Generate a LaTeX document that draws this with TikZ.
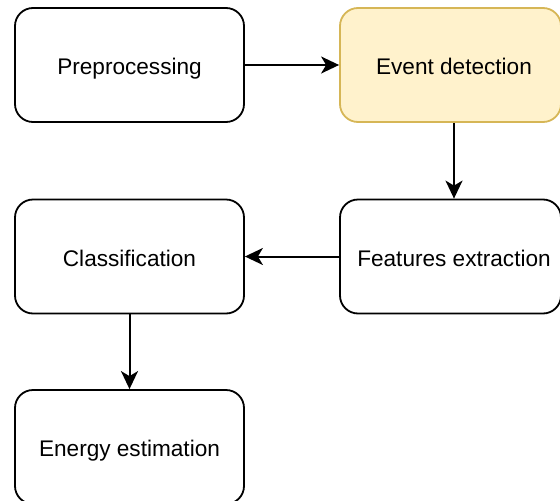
\documentclass[tikz,border=0pt]{standalone}
\usepackage{fontspec}
\setmainfont{Liberation Sans}
\usetikzlibrary{arrows.meta}
\definecolor{hiFill}{HTML}{FFF2CC}
\definecolor{hiLine}{HTML}{D6B656}
\begin{document}
\begin{tikzpicture}[x=1pt,y=-1pt,
  stage/.style={draw=black, line width=1.8pt, rounded corners=18pt, fill=white,
    minimum width=229pt, minimum height=114pt, inner sep=0pt,
    text height=19pt, text depth=0pt,
    font=\fontsize{22.6}{27}\selectfont},
  highlight/.style={stage, fill=hiFill, draw=hiLine, minimum width=221pt},
  flow/.style={-{Stealth[length=18pt,width=17pt,inset=5pt]}, line width=2pt}]
\useasboundingbox (0,0) rectangle (560,501);

% pipeline stages
\node[stage]     (pre) at (129.5,65)    {Preprocessing};
\node[highlight] (ev)  at (450.5,65)    {\hspace*{7pt}Event detection};
\node[stage, minimum width=221pt] (fe) at (450.5,256.5) {\hspace*{7pt}Features extraction};
\node[stage]     (cl)  at (129.5,256.5) {Classification};
\node[stage]     (en)  at (129.5,447)   {Energy estimation};

% connectors
\draw[flow] (pre.east) -- (ev.west);
\draw[flow] ([xshift=3.5pt]ev.south) -- ([xshift=3.5pt]fe.north);
\draw[flow] (fe.west) -- (cl.east);
\draw[flow] (cl.south) -- (en.north);
\end{tikzpicture}
\end{document}
